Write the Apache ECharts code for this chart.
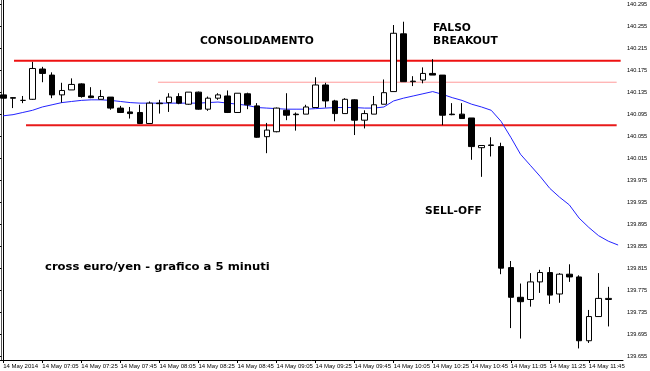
<!DOCTYPE html>
<html><head><meta charset="utf-8">
<script src="https://cdn.jsdelivr.net/npm/echarts@6/dist/echarts.min.js"></script>
<style>html,body{margin:0;padding:0;background:#fff}#c{width:650px;height:371px}</style>
</head><body><div id="c"></div>
<script>
// ---- data ----
const dateLabel = '14 May';
const firstLabel = '14 May 2014';
const times = ['06:45','06:50','06:55','07:00','07:05','07:10','07:15','07:20','07:25','07:30','07:35','07:40','07:45','07:50','07:55','08:00','08:05','08:10','08:15','08:20','08:25','08:30','08:35','08:40','08:45','08:50','08:55','09:00','09:05','09:10','09:15','09:20','09:25','09:30','09:35','09:40','09:45','09:50','09:55','10:00','10:05','10:10','10:15','10:20','10:25','10:30','10:35','10:40','10:45','10:50','10:55','11:00','11:05','11:10','11:15','11:20','11:25','11:30','11:35','11:40','11:45','11:50','11:55',''];
const opens  = [140.131,140.126,140.121,140.123,140.178,140.167,140.131,140.140,140.151,140.129,140.123,140.127,140.107,140.100,140.099,140.079,140.116,140.117,140.128,140.114,140.136,140.105,140.125,140.129,140.099,140.133,140.111,140.055,140.064,140.103,140.096,140.096,140.108,140.149,140.120,140.097,140.122,140.085,140.096,140.114,140.137,140.242,140.155,140.158,140.170,140.167,140.096,140.096,140.089,140.035,140.040,140.037,139.817,139.763,139.759,139.791,139.808,139.769,139.805,139.800,139.684,139.728,139.759];
const closes = [140.125,140.125,140.121,140.179,140.170,140.131,140.139,140.150,140.128,140.126,140.128,140.107,140.099,140.097,140.079,140.116,140.115,140.127,140.116,140.136,140.105,140.125,140.131,140.099,140.134,140.113,140.054,140.067,140.107,140.094,140.095,140.109,140.149,140.120,140.097,140.123,140.085,140.097,140.113,140.135,140.243,140.155,140.156,140.170,140.167,140.094,140.095,140.088,140.037,140.039,140.039,139.816,139.763,139.755,139.791,139.808,139.767,139.805,139.800,139.684,139.728,139.761,139.761];
const lows   = [140.122,140.107,140.116,140.122,140.154,140.125,140.117,140.140,140.126,140.125,140.123,140.104,140.098,140.088,140.078,140.079,140.097,140.100,140.114,140.113,140.104,140.102,140.122,140.098,140.099,140.105,140.053,140.025,140.063,140.085,140.066,140.096,140.108,140.108,140.083,140.097,140.058,140.070,140.096,140.114,140.137,140.155,140.147,140.152,140.167,140.076,140.094,140.088,140.013,139.982,140.019,139.805,139.707,139.688,139.746,139.771,139.751,139.753,139.791,139.670,139.680,139.728,139.710];
const highs  = [140.134,140.127,140.129,140.191,140.182,140.172,140.153,140.161,140.152,140.145,140.140,140.127,140.111,140.109,140.113,140.119,140.122,140.134,140.134,140.136,140.137,140.128,140.134,140.139,140.134,140.135,140.116,140.080,140.108,140.134,140.099,140.113,140.163,140.153,140.122,140.125,140.123,140.103,140.129,140.159,140.258,140.264,140.165,140.181,140.196,140.167,140.116,140.116,140.089,140.039,140.054,140.044,139.829,139.788,139.807,139.813,139.818,139.807,139.823,139.803,139.740,139.807,139.782];
const maValues = [140.093,140.095,140.099,140.103,140.109,140.113,140.117,140.119,140.121,140.122,140.122,140.121,140.119,140.117,140.116,140.116,140.116,140.116,140.116,140.116,140.116,140.117,140.118,140.116,140.114,140.112,140.108,140.107,140.106,140.105,140.105,140.105,140.106,140.107,140.108,140.108,140.108,140.107,140.107,140.109,140.120,140.125,140.129,140.133,140.137,140.132,140.126,140.121,140.114,140.109,140.103,140.083,140.054,140.023,140.003,139.983,139.961,139.945,139.931,139.907,139.890,139.875,139.865,139.858];
// horizontal levels: price, start bar, end bar
const levelPrices = [140.193, 140.154, 140.076];
const levelStart  = [1.1, 15.85, 2.33];
const levelEnd    = [63.26, 62.85, 62.85];
// price scale labels
const priceTickBase = 139.655;
const priceTickStep = 0.04;
const priceTickCount = 16;

// ---- chart ----
const chart = echarts.init(document.getElementById('c'), null, {renderer:'canvas'});
const candleData = opens.map((o,i)=>[o, closes[i], lows[i], highs[i]]);
const levelStyles = [
  {color:'#ee1111', width:2},
  {color:'#ff9a9a', width:1},
  {color:'#e81a1a', width:2}
];
const levelSeries = levelPrices.map((p,k)=>({
  type:'line', xAxisIndex:1, yAxisIndex:0, silent:true, symbol:'none',
  data:[[levelStart[k], p],[levelEnd[k], p]],
  lineStyle:levelStyles[k], z:1
}));
const GL = -1.6, GR = 27;
const option = {
  animation:false,
  backgroundColor:'#fff',
  grid:[
    {left:GL, right:GR, top:0, height:360, containLabel:false, outerBoundsMode:'none'},
    {left:GL, right:GR, top:4.7, height:352, containLabel:false, outerBoundsMode:'none'}
  ],
  xAxis:[
    {type:'category', gridIndex:0, data:times, boundaryGap:true,
     axisLine:{show:true, lineStyle:{color:'#000', width:1}},
     axisTick:{show:true, alignWithLabel:true, length:3, interval:(i)=>i%4===0, lineStyle:{color:'#000'}},
     axisLabel:{show:true, interval:(i)=>i%4===0, align:'left', margin:3, fontSize:6, color:'#000',
       fontFamily:'"Liberation Sans", Arial, sans-serif',
       formatter:(v,i)=> i===0 ? firstLabel : dateLabel+' '+v},
     splitLine:{show:false}},
    {type:'value', gridIndex:0, min:-0.5, max:times.length-0.5, show:false},
    {type:'value', gridIndex:1, min:0, max:1, show:false}
  ],
  yAxis:[
    {type:'value', gridIndex:0, position:'right', offset:2, min:139.649, max:140.3035,
     axisLine:{show:true, lineStyle:{color:'#000'}}, axisTick:{show:false}, axisLabel:{show:false}, splitLine:{show:false}},
    {type:'value', gridIndex:1, position:'right', offset:2, min:0, max:priceTickStep*priceTickCount, interval:priceTickStep,
     axisLine:{show:false}, axisTick:{show:true, length:3, lineStyle:{color:'#000'}},
     axisLabel:{show:true, margin:2, fontSize:5.6, color:'#000', fontFamily:'"Liberation Sans", Arial, sans-serif',
       formatter:(v)=>(priceTickBase+v).toFixed(3)},
     splitLine:{show:false}},
    {type:'value', gridIndex:0, position:'left', offset:-2.6, min:139.649, max:140.3035,
     axisLine:{show:true, lineStyle:{color:'#555'}}, axisTick:{show:false}, axisLabel:{show:false}, splitLine:{show:false}}
  ],
  series:[
    ...levelSeries,
    {type:'line', xAxisIndex:0, yAxisIndex:0, data:maValues, symbol:'none', silent:true,
     lineStyle:{color:'#2323ff', width:1}, z:2},
    {type:'candlestick', xAxisIndex:0, yAxisIndex:0, data:candleData, barWidth:6, z:3,
     itemStyle:{color:'#fff', color0:'#000', borderColor:'#000', borderColor0:'#000', borderWidth:1}}
  ],
  graphic:[
    {type:'text', x:200, y:41.7, style:{text:'CONSOLIDAMENTO', font:'bold 10.7px "DejaVu Sans"', fill:'#000', align:'left', verticalAlign:'middle'}},
    {type:'text', x:433, y:28.3, style:{text:'FALSO', font:'bold 10.7px "DejaVu Sans"', fill:'#000', align:'left', verticalAlign:'middle'}},
    {type:'text', x:433, y:41.3, style:{text:'BREAKOUT', font:'bold 10.7px "DejaVu Sans"', fill:'#000', align:'left', verticalAlign:'middle'}},
    {type:'text', x:425, y:211.5, style:{text:'SELL-OFF', font:'bold 10.7px "DejaVu Sans"', fill:'#000', align:'left', verticalAlign:'middle'}},
    {type:'text', x:45, y:266.8, scaleX:1.087, style:{text:'cross euro/yen - grafico a 5 minuti', font:'bold 10.7px "DejaVu Sans"', fill:'#000', align:'left', verticalAlign:'middle'}}
  ]
};
chart.setOption(option);
</script></body></html>
